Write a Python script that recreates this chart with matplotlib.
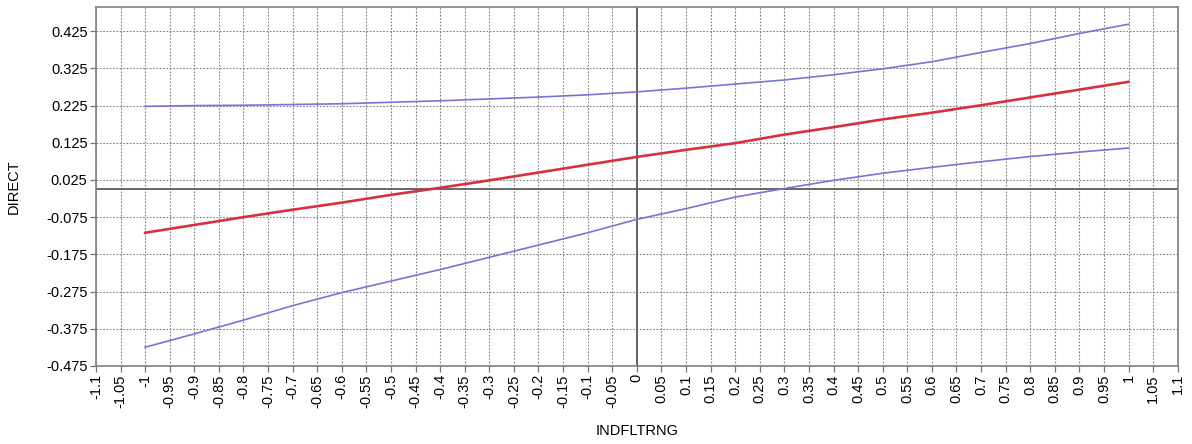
import numpy as np
import matplotlib
matplotlib.use("Agg")
import matplotlib.pyplot as plt

plt.rcParams["font.family"] = ["Liberation Sans", "DejaVu Sans"]

# x positions of the sampled curve points
indfltrng = [-1.0, -0.9, -0.8, -0.7, -0.6, -0.5, -0.4, -0.3, -0.2, -0.1, 0.0,
             0.1, 0.2, 0.3, 0.4, 0.5, 0.6, 0.7, 0.8, 0.9, 1.0]
# fitted line (red)
direct_fit = [-0.117, -0.096, -0.075, -0.055, -0.036, -0.015, 0.004, 0.024,
              0.045, 0.066, 0.087, 0.106, 0.124, 0.147, 0.167, 0.188, 0.206,
              0.226, 0.247, 0.268, 0.289]
# upper band (blue)
direct_upper = [0.223, 0.225, 0.226, 0.228, 0.230, 0.234, 0.238, 0.243, 0.248,
                0.254, 0.262, 0.272, 0.283, 0.294, 0.308, 0.324, 0.343, 0.368,
                0.392, 0.419, 0.444]
# lower band (blue)
direct_lower = [-0.425, -0.389, -0.352, -0.313, -0.278, -0.247, -0.216, -0.183,
                -0.150, -0.117, -0.081, -0.052, -0.021, 0.002, 0.024, 0.043,
                0.059, 0.074, 0.088, 0.100, 0.111]

xticks = np.round(np.arange(-1.1, 1.1001, 0.05), 2)
yticks = np.round(np.arange(-0.475, 0.4251, 0.1), 3)


def fmt(v, nd):
    s = f"{v:.{nd}f}".rstrip("0").rstrip(".")
    return "0" if s in ("-0", "") else s


fig = plt.figure(figsize=(11.92, 4.44), dpi=100)
ax = fig.add_axes([0.0805, 0.176, 0.9075, 0.808])

ax.set_xlim(-1.1, 1.1)
ax.set_ylim(-0.475, 0.49)
ax.set_xticks(xticks)
ax.set_xticklabels([fmt(v, 2) for v in xticks], rotation=90, fontsize=10.5)
ax.set_yticks(yticks)
ax.set_yticklabels([f"{v:.3f}" for v in yticks], fontsize=10.5)
ax.tick_params(direction="out", length=4, width=0.9, color="0.45", pad=2)

ax.grid(True, color="0.5", linestyle=(0, (1.5, 1.5)), linewidth=0.8)
ax.set_axisbelow(True)
ax.axhline(0, color="0.35", linewidth=1.3, zorder=2)
ax.axvline(0, color="0.35", linewidth=1.3, zorder=2)
for sp in ax.spines.values():
    sp.set_color("0.5")
    sp.set_linewidth(1.2)

ax.plot(indfltrng, direct_upper, color="#7575d6", linewidth=1.2, zorder=3)
ax.plot(indfltrng, direct_lower, color="#7575d6", linewidth=1.2, zorder=3)
ax.plot(indfltrng, direct_fit, color="#d6313f", linewidth=1.9, zorder=4)

ax.set_xlabel("INDFLTRNG", fontsize=10.5, labelpad=12)
ax.set_ylabel("DIRECT", fontsize=10.5, labelpad=18)

fig.savefig("out.png", dpi=100, facecolor="white")
